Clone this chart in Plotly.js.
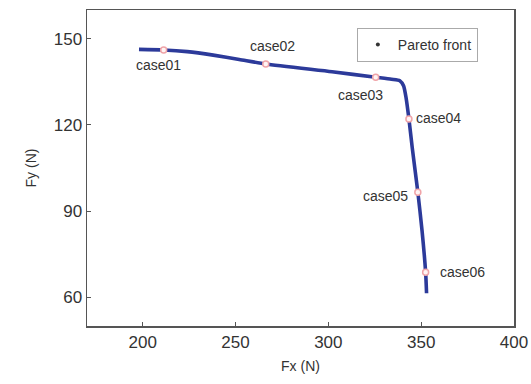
<!DOCTYPE html>
<html>
<head>
<meta charset="utf-8">
<script src="https://cdn.plot.ly/plotly-3.0.1.min.js"></script>
<style>
  html, body { margin: 0; padding: 0; background: #fff; }
  #chart { width: 531px; height: 384px; }
</style>
</head>
<body>
<div id="chart"></div>
<script>
// Pareto front of the force pair (Fx, Fy)
const frontFx = [198, 211.3, 224, 238, 252, 266.3, 302, 325.5, 334, 338.5, 340.5, 341.9, 343.4, 345.2, 348.2, 350.5, 352.4, 352.9];
const frontFy = [146.3, 146.1, 145.5, 144.3, 142.8, 141.2, 138.5, 136.6, 135.9, 135.4, 133.6, 129.3, 122.1, 112, 96.6, 83, 68.7, 61.4];

// Selected design cases on the front
const caseNames = ['case01', 'case02', 'case03', 'case04', 'case05', 'case06'];
const caseFx = [211.3, 266.3, 325.5, 343.4, 348.2, 352.4];
const caseFy = [146.1, 141.2, 136.6, 122.1, 96.6, 68.7];

const xTicks = [200, 250, 300, 350, 400];
const yTicks = [60, 90, 120, 150];

// label placement around each case marker
const labelPos = [
  { xanchor: 'center', xshift: -5, yshift: -15 },
  { xanchor: 'center', xshift: 7, yshift: 18 },
  { xanchor: 'center', xshift: -15, yshift: -17.5 },
  { xanchor: 'left', xshift: 5, yshift: 1 },
  { xanchor: 'right', xshift: -8, yshift: -3.5 },
  { xanchor: 'left', xshift: 12, yshift: 0 }
];

const FONT = 'Liberation Sans, Arial, sans-serif';
const TEXT = '#333333';

const traces = [
  {
    x: frontFx, y: frontFy,
    type: 'scatter', mode: 'lines',
    line: { color: '#2c3a9a', width: 3.6, shape: 'spline', smoothing: 0.6 },
    showlegend: false, hoverinfo: 'skip'
  },
  {
    x: caseFx, y: caseFy,
    type: 'scatter', mode: 'markers',
    marker: { size: 6, color: '#fff4f4', line: { color: '#f0a4a8', width: 1.5 } },
    showlegend: false
  },
  {
    x: [null], y: [null],
    type: 'scatter', mode: 'markers',
    name: 'Pareto front',
    marker: { size: 4, color: '#333', symbol: 'circle' }
  }
];

const annotations = caseNames.map((name, i) => ({
  x: caseFx[i], y: caseFy[i], xref: 'x', yref: 'y',
  text: name, showarrow: false,
  xanchor: labelPos[i].xanchor, yanchor: 'middle',
  xshift: labelPos[i].xshift, yshift: labelPos[i].yshift,
  font: { family: FONT, size: 14, color: TEXT }
}));

const axisCommon = {
  showgrid: false, zeroline: false,
  showline: true, linecolor: '#555', linewidth: 1.5, mirror: true,
  ticks: 'inside', ticklen: 4, tickwidth: 1, tickcolor: '#555',
  tickfont: { family: FONT, size: 17, color: TEXT }
};

const layout = {
  width: 531, height: 384,
  margin: { l: 87, r: 17, t: 10, b: 58 },
  paper_bgcolor: '#fff', plot_bgcolor: '#fff',
  xaxis: Object.assign({}, axisCommon, {
    range: [170, 400], tickvals: xTicks,
    title: { text: 'Fx (N)', font: { family: FONT, size: 14, color: TEXT }, standoff: 10 }
  }),
  yaxis: Object.assign({}, axisCommon, {
    range: [50, 160], tickvals: yTicks,
    title: { text: 'Fy (N)', font: { family: FONT, size: 14, color: TEXT }, standoff: 14 }
  }),
  legend: {
    x: 0.632, y: 0.943, xanchor: 'left', yanchor: 'top',
    bgcolor: '#fff', bordercolor: '#aaa', borderwidth: 1,
    font: { family: FONT, size: 14, color: TEXT },
    itemwidth: 30
  },
  annotations: annotations,
  showlegend: true
};

Plotly.newPlot('chart', traces, layout, { staticPlot: true, displayModeBar: false });
</script>
</body>
</html>
